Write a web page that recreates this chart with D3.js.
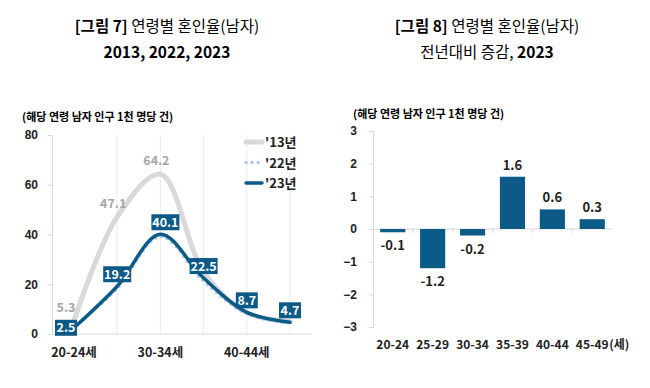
<!DOCTYPE html>
<html>
<head>
<meta charset="utf-8">
<script src="https://cdn.jsdelivr.net/npm/d3@7"></script>
<style>
  body { margin: 0; background: #fff; }
  svg { font-family: "Noto Sans CJK KR", "Noto Sans", sans-serif; }
  .tick text { font-weight: bold; }
</style>
</head>
<body>
<div class="container"></div>
<script>
const W = 650, H = 388;

// left chart data
const ages = ["20-24", "25-29", "30-34", "35-39", "40-44", "45-49"];
const rate2013 = [5.3, 47.1, 64.2, 25.0, 8.6, 5.0];
const rate2022 = [2.7, 18.4, 39.2, 21.3, 8.2, 4.5];
const rate2023 = [2.5, 19.2, 40.1, 22.5, 8.7, 4.7];
const leftTicks = [0, 20, 40, 60, 80];
const xLabelsLeft = ["20-24세", "30-34세", "40-44세"];

// right chart data
const diff2023 = [-0.1, -1.2, -0.2, 1.6, 0.6, 0.3];
const rightTicks = [-3, -2, -1, 0, 1, 2, 3];

const BLUE = "#0b5a87";
const GREY = "#d9d9d9";
const LIGHT = "#b4c7e7";

var svg = d3.select(".container").append("svg")
    .attr("width", W)
    .attr("height", H);

var title = function(x, y, parts){
    var t = svg.append("text")
        .attr("x", x).attr("y", y)
        .attr("text-anchor", "middle")
        .attr("font-size", 15.5)
        .attr("fill", "#000");
    parts.forEach(function(p){
        t.append("tspan").text(p[0]).attr("font-weight", p[1] ? "bold" : "normal");
    });
}

title(167, 32, [["[그림 7] ", true], ["연령별 혼인율(남자)", false]]);
title(167, 58, [["2013, 2022, 2023", true]]);
title(487, 32, [["[그림 8] ", true], ["연령별 혼인율(남자)", false]]);
title(487, 58, [["전년대비 증감, ", false], ["2023", true]]);

svg.append("text").attr("x", 22).attr("y", 121)
    .attr("font-size", 11).attr("font-weight", "bold")
    .text("(해당 연령 남자 인구 1천 명당 건)");
svg.append("text").attr("x", 353).attr("y", 118)
    .attr("font-size", 11).attr("font-weight", "bold")
    .text("(해당 연령 남자 인구 1천 명당 건)");

// ---------- left line chart ----------
var xL = d3.scalePoint().domain(ages).range([74, 290]);
var yL = d3.scaleLinear().domain([0, 80]).range([334, 135]);

var gL = svg.append("g");

// vertical grid lines
gL.selectAll(".vgrid").data(ages.slice(1)).enter().append("line")
    .attr("x1", d => xL(d)).attr("x2", d => xL(d))
    .attr("y1", yL(0)).attr("y2", yL(80))
    .attr("stroke", "#ececec").attr("stroke-width", 1);

var yAxisL = gL.append("g")
    .attr("transform", "translate(52,0)")
    .call(d3.axisLeft(yL).tickValues(leftTicks).tickSize(4).tickPadding(10));
yAxisL.select(".domain").attr("stroke", "#d9d9d9");
yAxisL.selectAll(".tick line").attr("stroke", "#d9d9d9");
yAxisL.selectAll(".tick text").attr("font-size", 12).attr("fill", "#222");

gL.append("line")
    .attr("x1", 52).attr("x2", 312)
    .attr("y1", yL(0)).attr("y2", yL(0))
    .attr("stroke", "#d9d9d9");

gL.selectAll(".xlab").data(xLabelsLeft).enter().append("text")
    .attr("x", (d, i) => xL(ages[i * 2]))
    .attr("y", 357)
    .attr("text-anchor", "middle")
    .attr("font-size", 12.5).attr("font-weight", "bold").attr("fill", "#222")
    .text(d => d);

var lineGen = d3.line()
    .x((d, i) => xL(ages[i]))
    .y(d => yL(d))
    .curve(d3.curveCatmullRom.alpha(0.5));

gL.append("path").datum(rate2013)
    .attr("d", lineGen).attr("fill", "none")
    .attr("stroke", GREY).attr("stroke-width", 5).attr("stroke-linecap", "round");
gL.append("path").datum(rate2022)
    .attr("d", lineGen).attr("fill", "none")
    .attr("stroke", LIGHT).attr("stroke-width", 3.5)
    .attr("stroke-dasharray", "0.1 6").attr("stroke-linecap", "round");
gL.append("path").datum(rate2023)
    .attr("d", lineGen).attr("fill", "none")
    .attr("stroke", BLUE).attr("stroke-width", 3.5).attr("stroke-linecap", "round");

// 2013 labels (first three)
gL.selectAll(".l13").data(rate2013.slice(0, 3)).enter().append("text")
    .attr("x", (d, i) => xL(ages[i]) - (i == 0 ? 8 : 4))
    .attr("y", (d, i) => yL(d) - 9)
    .attr("text-anchor", "middle")
    .attr("font-size", 12.5).attr("font-weight", "bold").attr("fill", "#a6a6a6")
    .text(d => d.toFixed(1));

// 2023 boxed labels
var lab = gL.selectAll(".l23").data(rate2023).enter().append("g")
    .attr("transform", (d, i) => "translate(" + (xL(ages[i]) + (i == 0 ? -8 : (i == 2 ? 5 : 0))) + "," + (yL(d) - (i == 0 ? 0 : 12)) + ")");
lab.append("rect")
    .attr("x", d => d >= 10 ? -14 : -11).attr("y", -8)
    .attr("width", d => d >= 10 ? 28 : 22).attr("height", 16)
    .attr("fill", BLUE);
lab.append("text")
    .attr("y", 4.5).attr("text-anchor", "middle")
    .attr("font-size", 12.5).attr("font-weight", "bold").attr("fill", "#fff")
    .text(d => d.toFixed(1));

// legend
var legend = [["'13년", GREY, null], ["'22년", LIGHT, "0.1 6"], ["'23년", BLUE, null]];
var lg = gL.selectAll(".leg").data(legend).enter().append("g")
    .attr("transform", (d, i) => "translate(245," + (142 + i * 20.5) + ")");
lg.append("line")
    .attr("x1", 1).attr("x2", 17)
    .attr("stroke", d => d[1]).attr("stroke-width", (d, i) => i == 0 ? 5 : 3.5)
    .attr("stroke-linecap", "round")
    .attr("stroke-dasharray", d => d[2]);
lg.append("text")
    .attr("x", 20).attr("y", 5)
    .attr("font-size", 13).attr("font-weight", "bold").attr("fill", "#222")
    .text(d => d[0]);

// ---------- right bar chart ----------
var xR = d3.scaleBand().domain(ages).range([373, 612]).paddingInner(0.37).paddingOuter(0.18);
var yR = d3.scaleLinear().domain([-3, 3]).range([327, 131]);

var gR = svg.append("g");
var yAxisR = gR.append("g")
    .attr("transform", "translate(373,0)")
    .call(d3.axisLeft(yR).tickValues(rightTicks).tickFormat(d3.format("d")).tickSize(4).tickPadding(12));
yAxisR.select(".domain").attr("stroke", "#d9d9d9");
yAxisR.selectAll(".tick line").attr("stroke", "#d9d9d9");
yAxisR.selectAll(".tick text").attr("font-size", 12).attr("fill", "#222");

gR.append("line")
    .attr("x1", 373).attr("x2", 612)
    .attr("y1", yR(0)).attr("y2", yR(0))
    .attr("stroke", "#d9d9d9");
// category boundary ticks
var step = (612 - 373) / ages.length;
gR.selectAll(".ct").data(ages.slice(1)).enter().append("line")
    .attr("x1", (d, i) => 373 + step * (i + 1)).attr("x2", (d, i) => 373 + step * (i + 1))
    .attr("y1", yR(0)).attr("y2", yR(0) + 4)
    .attr("stroke", "#d9d9d9");

gR.selectAll(".bar").data(diff2023).enter().append("rect")
    .attr("x", (d, i) => xR(ages[i]))
    .attr("width", xR.bandwidth())
    .attr("y", d => yR(Math.max(0, d)))
    .attr("height", d => Math.abs(yR(d) - yR(0)))
    .attr("fill", BLUE);

gR.selectAll(".bl").data(diff2023).enter().append("text")
    .attr("x", (d, i) => xR(ages[i]) + xR.bandwidth() / 2)
    .attr("y", d => d >= 0 ? yR(d) - 7 : yR(d) + 18)
    .attr("text-anchor", "middle")
    .attr("font-size", 13).attr("font-weight", "bold").attr("fill", "#222")
    .text(d => d.toFixed(1));

gR.selectAll(".xr").data(ages).enter().append("text")
    .attr("x", d => xR(d) + xR.bandwidth() / 2)
    .attr("y", 349)
    .attr("text-anchor", "middle")
    .attr("font-size", 12).attr("font-weight", "bold").attr("fill", "#222")
    .text(d => d);
gR.append("text")
    .attr("x", xR(ages[5]) + xR.bandwidth() / 2 + 17)
    .attr("y", 349)
    .attr("font-size", 12).attr("font-weight", "bold").attr("fill", "#222")
    .text("(세)");
</script>
</body>
</html>
